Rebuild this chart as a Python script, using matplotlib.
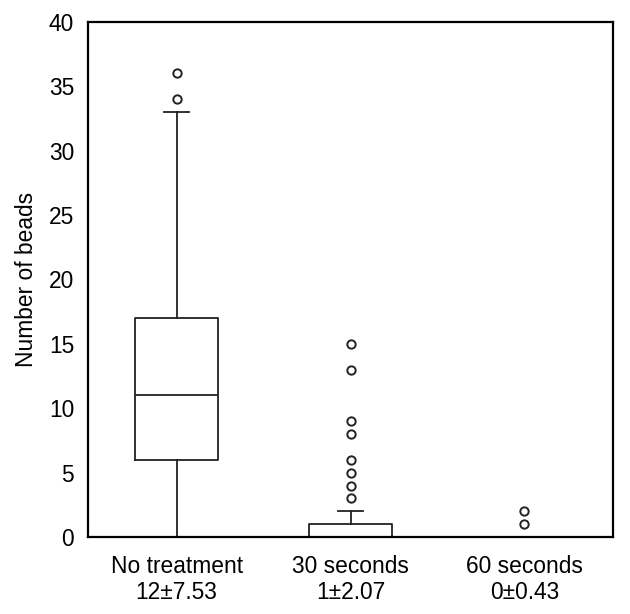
import matplotlib
matplotlib.use("Agg")
import matplotlib.pyplot as plt

# 数据
groups = ["No treatment", "30 seconds", "60 seconds"]
summary = ["12±7.53", "1±2.07", "0±0.43"]
q1 = [6, 0, 0]
med = [11, 0, 0]
q3 = [17, 1, 0]
whislo = [0, 0, 0]
whishi = [33, 2, 0]
fliers = [[34, 36], [3, 4, 5, 6, 8, 9, 13, 15], [1, 2]]

plt.rcParams["font.family"] = ["Liberation Sans", "DejaVu Sans"]

fig = plt.figure(figsize=(6.3, 6.14), dpi=100)
ax = fig.add_axes([0.1397, 0.1254, 0.8333, 0.8388])

stats = []
for i in range(len(groups)):
    stats.append({
        "q1": q1[i], "med": med[i], "q3": q3[i],
        "whislo": whislo[i], "whishi": whishi[i],
        "fliers": fliers[i], "label": groups[i] + "\n" + summary[i],
    })

lc = "#222222"
lw = 1.3
ax.bxp(stats, positions=[1, 2, 3], widths=0.48, capwidths=0.14,
       boxprops=dict(color=lc, linewidth=lw),
       medianprops=dict(color=lc, linewidth=lw),
       whiskerprops=dict(color=lc, linewidth=lw),
       capprops=dict(color=lc, linewidth=lw),
       flierprops=dict(marker="o", markersize=6, markerfacecolor="white",
                       markeredgecolor=lc, markeredgewidth=1.4))

# 坐标
ax.set_xlim(0.49, 3.51)
ax.set_ylim(0, 40)
ax.set_yticks(range(0, 41, 5))
ax.tick_params(axis="both", length=0, labelsize=16.4, pad=10)
ax.tick_params(axis="x", pad=13)
for lab in ax.get_xticklabels():
    lab.set_linespacing(1.15)
for s in ax.spines.values():
    s.set_linewidth(1.6)
ax.set_ylabel("Number of beads", fontsize=16.4, labelpad=7.5)

fig.savefig("out.png", dpi=100)
